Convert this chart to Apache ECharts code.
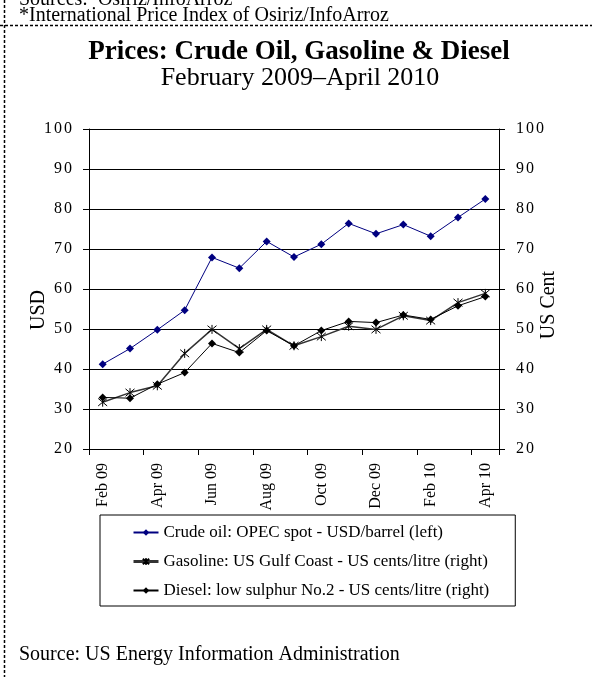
<!DOCTYPE html>
<html>
<head>
<meta charset="utf-8">
<script src="https://cdn.jsdelivr.net/npm/echarts@6/dist/echarts.min.js"></script>
<style>
  html, body { margin: 0; padding: 0; background: #fff; }
  #chart { width: 592px; height: 677px; }
</style>
</head>
<body>
<div id="chart"></div>
<script>
// months shown on the category axis
const months = ["Feb 09", "Mar 09", "Apr 09", "May 09", "Jun 09", "Jul 09", "Aug 09", "Sep 09",
                "Oct 09", "Nov 09", "Dec 09", "Jan 10", "Feb 10", "Mar 10", "Apr 10"];
// USD/barrel (left axis)
const crudeOil = [41.2, 45.1, 49.8, 54.7, 67.9, 65.2, 71.9, 68.0, 71.2, 76.4, 73.8, 76.1, 73.2, 77.9, 82.5];
// US cents/litre (right axis)
const gasoline = [31.7, 34.1, 35.8, 43.9, 49.9, 45.1, 49.9, 45.8, 48.1, 50.7, 49.9, 53.3, 52.1, 56.6, 58.9];
const diesel = [32.9, 32.7, 36.2, 39.1, 46.4, 44.1, 49.6, 45.8, 49.6, 51.9, 51.6, 53.5, 52.4, 55.8, 58.1];
const seriesNames = [
    "Crude oil: OPEC spot - USD/barrel (left)",
    "Gasoline: US Gulf Coast - US cents/litre (right)",
    "Diesel: low sulphur No.2 - US cents/litre (right)"
];

const serif = '"Times New Roman", "Liberation Serif", serif';
const star = "path://M0,0L10,10M10,0L0,10M5,-1L5,11";

// spread the digits a little, like the original tick labels
function spaced(v) {
    return String(v).split("").map(function (c) { return "{d|" + c + "}"; }).join("");
}

const chart = echarts.init(document.getElementById("chart"));

const yAxisCommon = {
    type: "value",
    min: 20,
    max: 100,
    interval: 10,
    axisLine: { show: true, lineStyle: { color: "#000", width: 1 } },
    axisTick: { show: true, length: 6, lineStyle: { color: "#000" } },
    axisLabel: {
        color: "#000", fontFamily: serif, fontSize: 16, margin: 16,
        formatter: spaced,
        rich: { d: { fontFamily: serif, fontSize: 16, color: "#000", padding: [0, 1, 0, 1] } }
    },
};

chart.setOption({
    animation: false,
    backgroundColor: "#fff",
    textStyle: { fontFamily: serif },
    grid: { left: 89, right: 93, top: 129, bottom: 228 },
    graphic: [
        { type: "line", shape: { x1: 4.5, y1: 0, x2: 4.5, y2: 677 },
          style: { stroke: "#000", lineWidth: 1.5, lineDash: [3, 2] } },
        { type: "line", shape: { x1: 0, y1: 25.5, x2: 592, y2: 25.5 },
          style: { stroke: "#000", lineWidth: 1.5, lineDash: [3, 2] } },
        { type: "text", left: 19, top: -10,
          style: { text: "Sources:  Osiriz/InfoArroz", font: "20px " + serif, fill: "#000" } },
        { type: "text", left: 19, top: 6,
          style: { text: "*International Price Index of Osiriz/InfoArroz", font: "20px " + serif, fill: "#000" } },
        { type: "text", x: 299, y: 52,
          style: { text: "Prices: Crude Oil, Gasoline & Diesel", font: "bold 27px " + serif,
                   fill: "#000", align: "center", verticalAlign: "middle" } },
        { type: "text", x: 300, y: 78,
          style: { text: "February 2009\u2013April 2010", font: "26px " + serif,
                   fill: "#000", align: "center", verticalAlign: "middle" } },
        { type: "text", x: 39, y: 310, rotation: Math.PI / 2,
          style: { text: "USD", font: "20px " + serif, fill: "#000",
                   align: "center", verticalAlign: "middle" } },
        { type: "text", x: 549, y: 305, rotation: Math.PI / 2,
          style: { text: "US Cent", font: "20px " + serif, fill: "#000",
                   align: "center", verticalAlign: "middle" } },
        { type: "text", left: 19, top: 645,
          style: { text: "Source: US Energy Information Administration", font: "20px " + serif, fill: "#000" } }
    ],
    legend: {
        orient: "vertical",
        left: 100,
        top: 515,
        padding: [9, 26, 7, 32],
        itemGap: 12,
        itemWidth: 25,
        itemHeight: 8,
        borderColor: "#000",
        borderWidth: 1,
        textStyle: { fontFamily: serif, fontSize: 17, color: "#000" },
        data: [
            { name: seriesNames[0] },
            { name: seriesNames[1], lineStyle: { width: 3 } },
            { name: seriesNames[2] }
        ]
    },
    xAxis: {
        type: "category",
        data: months,
        boundaryGap: true,
        axisLine: { lineStyle: { color: "#000", width: 1 } },
        axisTick: { show: true, interval: 1, length: 6, lineStyle: { color: "#000" } },
        axisLabel: { interval: 1, rotate: 90, color: "#000", fontFamily: serif, fontSize: 16, margin: 14 },
    },
    yAxis: [
        Object.assign({}, yAxisCommon, {
            position: "left",
            splitLine: { show: true, lineStyle: { color: "#000", width: 1 } }
        }),
        Object.assign({}, yAxisCommon, {
            position: "right",
            splitLine: { show: false }
        })
    ],
    series: [
        {
            name: seriesNames[0],
            type: "line",
            yAxisIndex: 0,
            data: crudeOil,
            symbol: "diamond",
            symbolSize: 8,
            lineStyle: { color: "#000080", width: 1 },
            itemStyle: { color: "#000080" }
        },
        {
            name: seriesNames[1],
            type: "line",
            yAxisIndex: 1,
            data: gasoline,
            symbol: star,
            symbolSize: 9,
            lineStyle: { color: "#333", width: 1.5 },
            itemStyle: { color: "#000", borderColor: "#000", borderWidth: 1 }
        },
        {
            name: seriesNames[2],
            type: "line",
            yAxisIndex: 1,
            data: diesel,
            symbol: "diamond",
            symbolSize: 8,
            lineStyle: { color: "#000", width: 1 },
            itemStyle: { color: "#000" }
        }
    ]
});
</script>
</body>
</html>
